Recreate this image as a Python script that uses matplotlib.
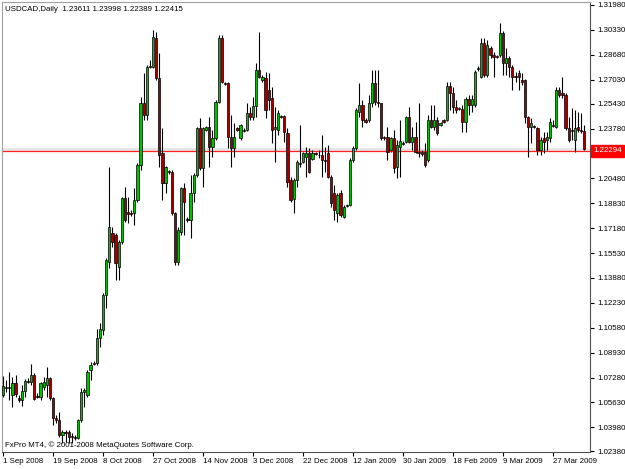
import matplotlib
matplotlib.use('Agg')
import matplotlib.pyplot as plt
import matplotlib.transforms as mtransforms
import numpy as np

plt.rcParams['font.family'] = ['Liberation Sans', 'DejaVu Sans']

# USDCAD daily bars (1 Sep 2008 .. early Apr 2009)
opens = [
    1.0612, 1.0665, 1.0659, 1.0612, 1.0692, 1.0593, 1.0579, 1.0639, 1.0705, 1.0698,
    1.0745, 1.0606, 1.0599, 1.0665, 1.0679, 1.0725, 1.0593, 1.0460, 1.0447, 1.0347,
    1.0367, 1.0367, 1.0341, 1.0334, 1.0327, 1.0447, 1.0632, 1.0612, 1.0778, 1.0824,
    1.0824, 1.0990, 1.1043, 1.1275, 1.1494, 1.1686, 1.1673, 1.1460, 1.1626, 1.1918,
    1.1825, 1.1818, 1.1818, 1.1905, 1.2137, 1.2547, 1.2468, 1.2793, 1.2786, 1.2978,
    1.2713, 1.2216, 1.2017, 1.2097, 1.2090, 1.1818, 1.1494, 1.1692, 1.1984, 1.1779,
    1.1772, 1.1951, 1.2070, 1.2382, 1.2117, 1.2369, 1.2388, 1.2256, 1.2315, 1.2554,
    1.2978, 1.2680, 1.2680, 1.2322, 1.2249, 1.2382, 1.2315, 1.2369, 1.2369, 1.2481,
    1.2455, 1.2528, 1.2766, 1.2700, 1.2713, 1.2634, 1.2581, 1.2375, 1.2369, 1.2461,
    1.2461, 1.2349, 1.2037, 1.1911, 1.2037, 1.2150, 1.2156, 1.2190, 1.2216, 1.2176,
    1.2216, 1.2203, 1.2203, 1.2170, 1.2216, 1.2057, 1.1951, 1.1818, 1.1951, 1.1792,
    1.1865, 1.1871, 1.2170, 1.2249, 1.2488, 1.2534, 1.2435, 1.2435, 1.2547, 1.2680,
    1.2554, 1.2547, 1.2322, 1.2322, 1.2236, 1.2315,
    1.2123, 1.2256, 1.2282, 1.2289, 1.2455, 1.2289, 1.2322, 1.2223, 1.2223, 1.2223,
    1.2170, 1.2435, 1.2388, 1.2435, 1.2402, 1.2435, 1.2435, 1.2660, 1.2614, 1.2521,
    1.2514, 1.2508, 1.2421, 1.2574, 1.2534, 1.2534, 1.2773, 1.2720, 1.2945, 1.2733,
    1.2912, 1.2866, 1.2859, 1.2866, 1.3011, 1.2813, 1.2846, 1.2786, 1.2726, 1.2746,
    1.2700, 1.2700, 1.2455, 1.2388, 1.2395, 1.2382, 1.2236, 1.2315, 1.2302, 1.2315,
    1.2402, 1.2388, 1.2634, 1.2614, 1.2600, 1.2382, 1.2369, 1.2302, 1.2388, 1.2369,
    1.23611,
]
highs = [
    1.0738, 1.0712, 1.0765, 1.0732, 1.0745, 1.0612, 1.0679, 1.0718, 1.0725, 1.0818,
    1.0758, 1.0626, 1.0698, 1.0732, 1.0798, 1.0732, 1.0599, 1.0480, 1.0500, 1.0380,
    1.0380, 1.0380, 1.0361, 1.0347, 1.0453, 1.0659, 1.0659, 1.0778, 1.0831, 1.0838,
    1.1050, 1.1090, 1.1288, 1.1520, 1.2123, 1.1726, 1.1686, 1.1640, 1.1924, 1.1991,
    1.1924, 1.1838, 1.1984, 1.2150, 1.2587, 1.2746, 1.2799, 1.2832, 1.3031, 1.3018,
    1.2879, 1.2382, 1.2130, 1.2103, 1.2103, 1.1822, 1.1726, 1.1991, 1.2017, 1.1792,
    1.2070, 1.2084, 1.2388, 1.2448, 1.2388, 1.2395, 1.2455, 1.2369, 1.2567, 1.2998,
    1.2998, 1.2687, 1.2687, 1.2468, 1.2415, 1.2388, 1.2408, 1.2382, 1.2547, 1.2521,
    1.2587, 1.2813, 1.3018, 1.2733, 1.2753, 1.2746, 1.2653, 1.2521, 1.2501, 1.2468,
    1.2468, 1.2382, 1.2057, 1.2050, 1.2170, 1.2402, 1.2223, 1.2256, 1.2249, 1.2236,
    1.2223, 1.2236, 1.2335, 1.2256, 1.2269, 1.2070, 1.2004, 1.1951, 1.1971, 1.1871,
    1.1878, 1.2183, 1.2262, 1.2514, 1.2680, 1.2567, 1.2448, 1.2600, 1.2766, 1.2766,
    1.2766, 1.2550, 1.2329, 1.2388, 1.2322, 1.2369,
    1.2302, 1.2435, 1.2296, 1.2461, 1.2521, 1.2388, 1.2421, 1.2547, 1.2236, 1.2282,
    1.2468, 1.2534, 1.2534, 1.2455, 1.2421, 1.2441, 1.2687, 1.2687, 1.2653, 1.2567,
    1.2521, 1.2534, 1.2587, 1.2600, 1.2600, 1.2766, 1.2793, 1.2978, 1.2978, 1.2965,
    1.2925, 1.2885, 1.2866, 1.3078, 1.3025, 1.2912, 1.2859, 1.2799, 1.2753, 1.2766,
    1.2746, 1.2706, 1.2461, 1.2448, 1.2402, 1.2388, 1.2322, 1.2355, 1.2355, 1.2448,
    1.2435, 1.2653, 1.2653, 1.2720, 1.2614, 1.2455, 1.2514, 1.2501, 1.2488, 1.2481,
    1.23998,
]
lows = [
    1.0599, 1.0632, 1.0579, 1.0533, 1.0599, 1.0566, 1.0539, 1.0599, 1.0692, 1.0679,
    1.0579, 1.0593, 1.0579, 1.0646, 1.0599, 1.0579, 1.0414, 1.0427, 1.0334, 1.0294,
    1.0301, 1.0294, 1.0294, 1.0314, 1.0321, 1.0433, 1.0533, 1.0599, 1.0712, 1.0811,
    1.0811, 1.0930, 1.1010, 1.1189, 1.1454, 1.1593, 1.1374, 1.1374, 1.1613, 1.1759,
    1.1752, 1.1798, 1.1739, 1.1892, 1.2103, 1.2435, 1.2435, 1.2779, 1.2779, 1.2700,
    1.2123, 1.1905, 1.1951, 1.2077, 1.1805, 1.1474, 1.1474, 1.1673, 1.1673, 1.1759,
    1.1653, 1.1892, 1.2057, 1.2103, 1.1991, 1.2362, 1.2123, 1.2190, 1.2302, 1.2547,
    1.2680, 1.2667, 1.2249, 1.2123, 1.2190, 1.2362, 1.2302, 1.2355, 1.2362, 1.2435,
    1.2435, 1.2455, 1.2713, 1.2687, 1.2448, 1.2501, 1.2282, 1.2156, 1.2335, 1.2448,
    1.2289, 1.1991, 1.1892, 1.1818, 1.1991, 1.2123, 1.2150, 1.2057, 1.2084, 1.2170,
    1.2203, 1.2183, 1.2057, 1.2090, 1.2050, 1.1858, 1.1772, 1.1759, 1.1792, 1.1785,
    1.1858, 1.1865, 1.2156, 1.2236, 1.2455, 1.2388, 1.2415, 1.2421, 1.2521, 1.2534,
    1.2521, 1.2302, 1.2302, 1.2170, 1.2223, 1.2084,
    1.2050, 1.2057, 1.2269, 1.2282, 1.2282, 1.2236, 1.2216, 1.2190, 1.2197, 1.2123,
    1.2156, 1.2382, 1.2369, 1.2335, 1.2395, 1.2415, 1.2428, 1.2501, 1.2481, 1.2481,
    1.2501, 1.2355, 1.2355, 1.2468, 1.2488, 1.2521, 1.2759, 1.2713, 1.2720, 1.2720,
    1.2846, 1.2720, 1.2846, 1.2852, 1.2733, 1.2733, 1.2720, 1.2634, 1.2687, 1.2634,
    1.2667, 1.2415, 1.2190, 1.2282, 1.2382, 1.2203, 1.2203, 1.2216, 1.2236, 1.2289,
    1.2388, 1.2382, 1.2587, 1.2581, 1.2369, 1.2289, 1.2302, 1.2223, 1.2355, 1.2349,
    1.22389,
]
closes = [
    1.0672, 1.0659, 1.0665, 1.0692, 1.0619, 1.0579, 1.0639, 1.0705, 1.0698, 1.0745,
    1.0586, 1.0599, 1.0692, 1.0698, 1.0725, 1.0593, 1.0460, 1.0447, 1.0347, 1.0367,
    1.0361, 1.0334, 1.0334, 1.0327, 1.0447, 1.0632, 1.0646, 1.0765, 1.0811, 1.0818,
    1.0990, 1.1050, 1.1275, 1.1507, 1.1726, 1.1626, 1.1487, 1.1626, 1.1918, 1.1772,
    1.1812, 1.1812, 1.1905, 1.2137, 1.2547, 1.2468, 1.2786, 1.2786, 1.2985, 1.2713,
    1.2203, 1.2017, 1.2123, 1.2090, 1.1818, 1.1494, 1.1706, 1.1984, 1.1892, 1.1772,
    1.1951, 1.2070, 1.2382, 1.2117, 1.2382, 1.2388, 1.2256, 1.2315, 1.2554, 1.2978,
    1.2687, 1.2673, 1.2322, 1.2249, 1.2322, 1.2369, 1.2402, 1.2362, 1.2481, 1.2455,
    1.2528, 1.2766, 1.2720, 1.2720, 1.2501, 1.2567, 1.2369, 1.2388, 1.2481, 1.2455,
    1.2355, 1.2024, 1.1905, 1.2037, 1.2156, 1.2145, 1.2216, 1.2216, 1.2090, 1.2216,
    1.2210, 1.2200, 1.2170, 1.2165, 1.2057, 1.1885, 1.1838, 1.1938, 1.1805, 1.1858,
    1.1871, 1.2170, 1.2249, 1.2501, 1.2534, 1.2435, 1.2421, 1.2547, 1.2680, 1.2554,
    1.2547, 1.2315, 1.2315, 1.2223, 1.2315, 1.2117,
    1.2269, 1.2296, 1.2276, 1.2455, 1.2289, 1.2322, 1.2223, 1.2216, 1.2210, 1.2137,
    1.2435, 1.2388, 1.2435, 1.2349, 1.2415, 1.2421, 1.2660, 1.2614, 1.2521, 1.2501,
    1.2508, 1.2421, 1.2574, 1.2534, 1.2574, 1.2753, 1.2779, 1.2945, 1.2733, 1.2932,
    1.2866, 1.2852, 1.2852, 1.3011, 1.2813, 1.2846, 1.2786, 1.2720, 1.2720, 1.2720,
    1.2687, 1.2455, 1.2388, 1.2415, 1.2388, 1.2236, 1.2302, 1.2289, 1.2322, 1.2421,
    1.2395, 1.2634, 1.2600, 1.2600, 1.2382, 1.2302, 1.2362, 1.2382, 1.2369, 1.2362,
    1.22415,
]

date_labels = ['1 Sep 2008', '19 Sep 2008', '8 Oct 2008', '27 Oct 2008', '14 Nov 2008',
               '3 Dec 2008', '22 Dec 2008', '12 Jan 2009', '30 Jan 2009', '18 Feb 2009',
               '9 Mar 2009', '27 Mar 2009']
bars_per_label = 16

price_ticks = [1.3198, 1.3033, 1.2868, 1.2703, 1.2543, 1.2378, 1.2048, 1.1883, 1.1718,
               1.1553, 1.1388, 1.1223, 1.1058, 1.0893, 1.0728, 1.0563, 1.0398, 1.0238]
last_price = 1.22294
header = 'USDCAD,Daily  1.23611 1.23998 1.22389 1.22415'
footer = 'FxPro MT4, \u00a9 2001-2008 MetaQuotes Software Corp.'

o = np.array(opens)
h = np.array(highs)
l = np.array(lows)
c = np.array(closes)
x = np.arange(len(o))

fig = plt.figure(figsize=(6.25, 4.69), dpi=100)
ax = fig.add_axes([2 / 625, 1 - 452 / 469, 588 / 625, 450 / 469])

# bid line + light ask band
ax.axhline(last_price + 0.0014, color='#e2e2e2', lw=1.8, zorder=0)
ax.axhline(last_price, color='#ff2020', lw=0.9, zorder=0.5)

ax.vlines(x, l, h, color='black', lw=0.8, zorder=2)

up = c > o
down = c < o
flat = c == o
w = 0.72
ax.bar(x[up], (c - o)[up], bottom=o[up], width=w, color='#00c000',
       edgecolor='black', linewidth=0.5, zorder=3)
ax.bar(x[down], (o - c)[down], bottom=c[down], width=w, color='#a00000',
       edgecolor='black', linewidth=0.5, zorder=3)
ax.hlines(o[flat], x[flat] - w / 2, x[flat] + w / 2, color='black', lw=0.8, zorder=3)

ax.set_xlim(-0.32, 187.84)
ax.set_ylim(1.02346, 1.32167)

fs = 5.7
ax.set_xticks([i * bars_per_label - 0.1 for i in range(len(date_labels))])
ax.set_xticklabels(date_labels)
for t in ax.get_xticklabels():
    t.set_ha('left')
ax.tick_params(axis='x', length=3, pad=1.5, labelsize=fs, width=0.8)

ax.yaxis.tick_right()
ax.set_yticks(price_ticks)
ax.set_yticklabels(['%.5f' % v for v in price_ticks])
ax.tick_params(axis='y', length=3, pad=2, labelsize=fs, width=0.8)

for s in ax.spines.values():
    s.set_color('#505050')
    s.set_linewidth(0.8)
ax.spines['top'].set_color('#a0a0a0')
ax.spines['left'].set_color('#a0a0a0')

ax.text(0.005, 0.992, header, transform=ax.transAxes, ha='left', va='top', fontsize=fs)
ax.text(0.005, 0.006, footer, transform=ax.transAxes, ha='left', va='bottom', fontsize=fs)

trans = mtransforms.blended_transform_factory(ax.transAxes, ax.transData)
ax.text(1.006, last_price, '%.5f' % last_price, transform=trans, ha='left', va='center',
        fontsize=fs, color='white', zorder=10,
        bbox=dict(facecolor='#ff0000', edgecolor='#ff0000', pad=1.5))

fig.savefig('out.png', dpi=100, facecolor='white')
